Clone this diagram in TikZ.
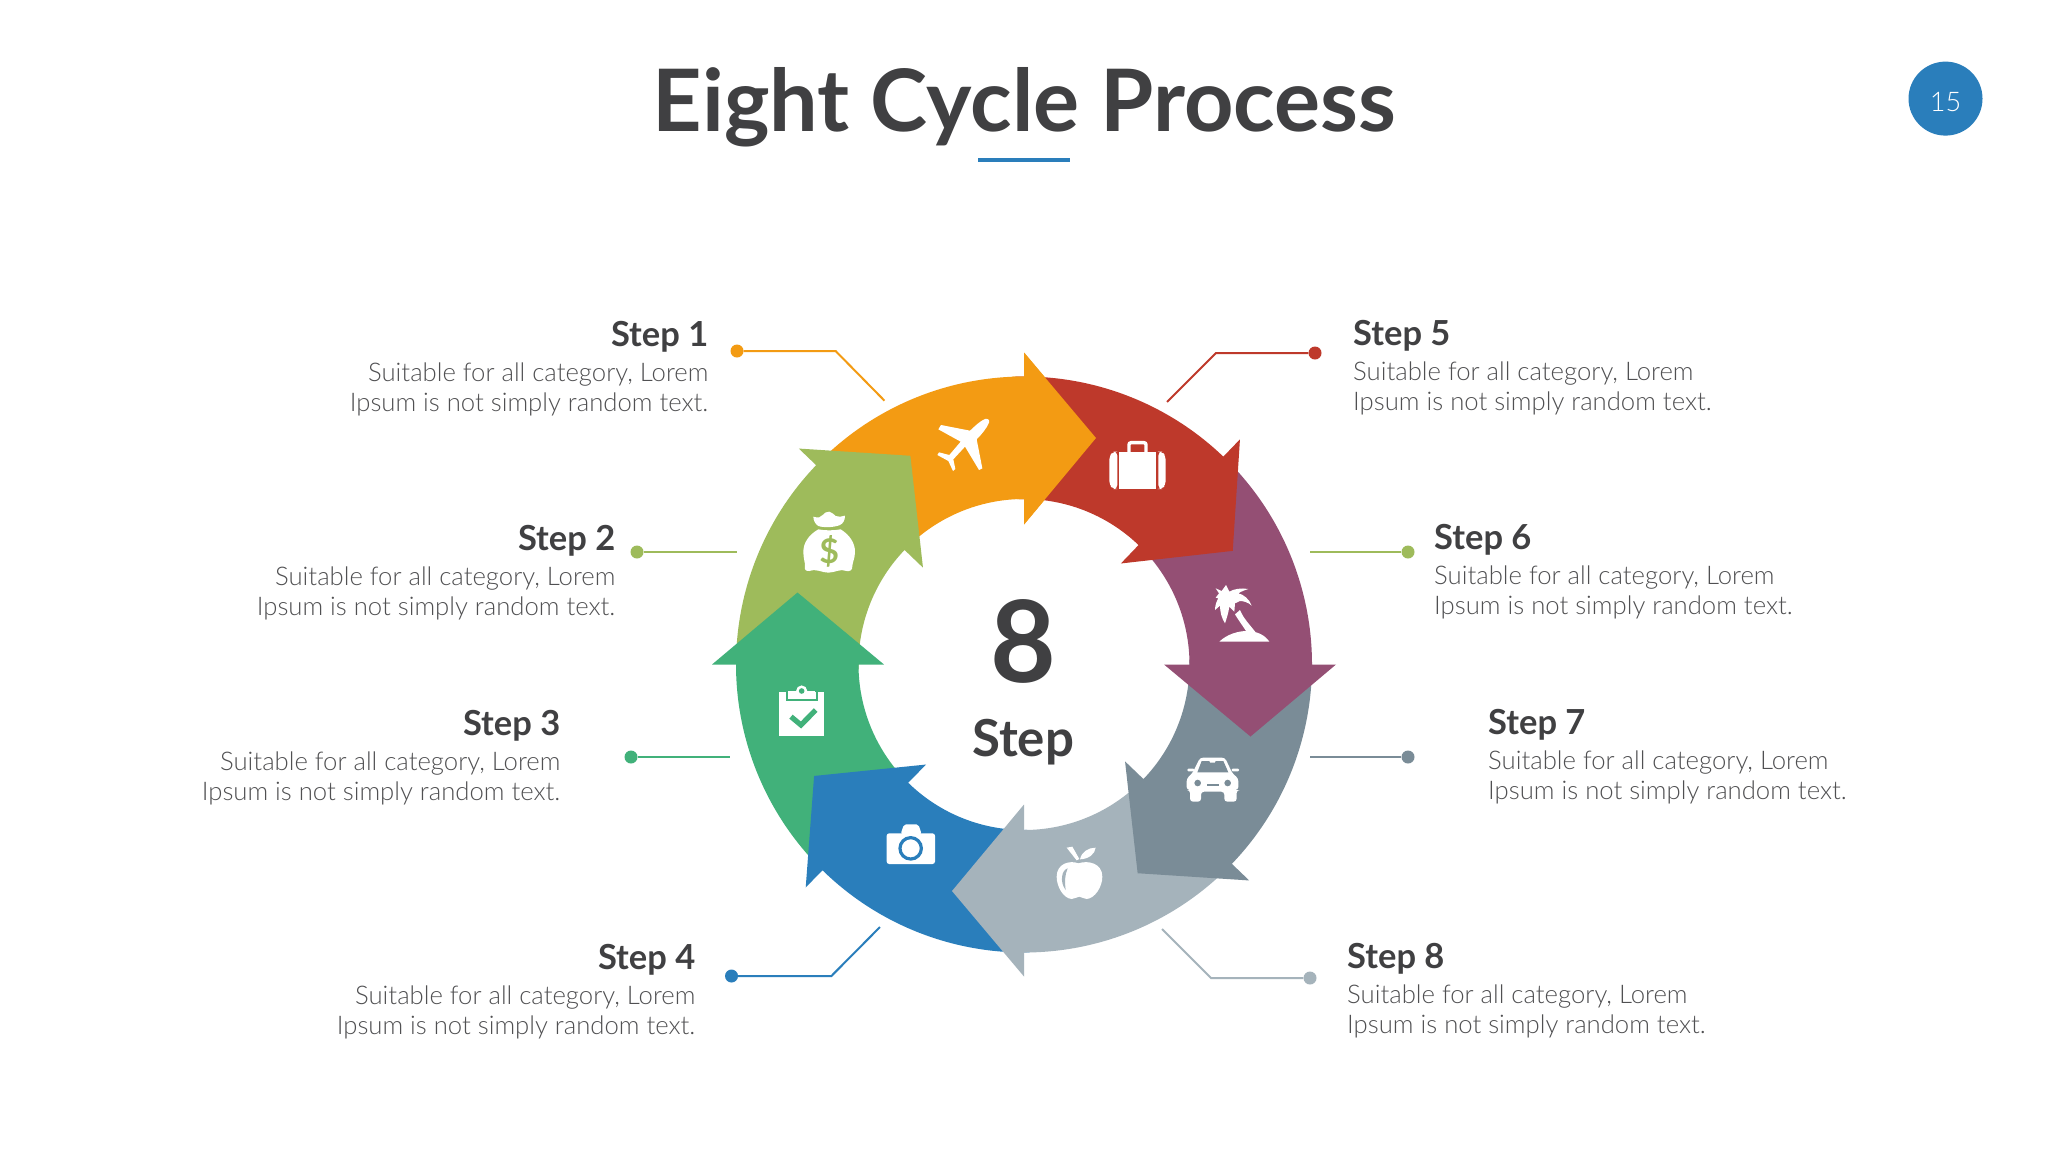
\documentclass[tikz,border=0pt]{standalone}
\usepackage{fontspec}
\setmainfont{Lato}
\newfontfamily\lightf{Lato Light}
\definecolor{cOrange}{HTML}{F39B13}
\definecolor{cRed}{HTML}{BE392B}
\definecolor{cPurple}{HTML}{944F74}
\definecolor{cSlate}{HTML}{7A8C97}
\definecolor{cSilver}{HTML}{A5B3BB}
\definecolor{cBlue}{HTML}{2A7EBB}
\definecolor{cGreen}{HTML}{41B17A}
\definecolor{cLime}{HTML}{9EBB5B}
\definecolor{cInk}{HTML}{404042}
\definecolor{cBody}{HTML}{505052}
\tikzset{
  ico/.style 2 args={shift={(#1,-#2)},x=0.3333pt,y=-0.3333pt},
  wedge/.style={shift={(1024,-664.5)},rotate=#1},
  dotnode/.style={circle,fill=#1,inner sep=0pt,minimum size=13pt},
  leader/.style={draw=#1,line width=2pt},
  headtxt/.style={inner sep=0pt,text=cInk,font=\fontsize{34.5}{38}\selectfont\bfseries},
  bodytxt/.style={inner sep=0pt,text=cBody,font=\fontsize{25.7}{30.7}\selectfont\lightf},
}
\begin{document}
\begin{tikzpicture}[x=1pt,y=1pt]
\useasboundingbox (0,0) rectangle (2048,-1152);
\fill[white] (0,0) rectangle (2048,-1152);
% title
\node[inner sep=0pt,anchor=base,text=cInk,font=\fontsize{86.2}{100}\selectfont\bfseries] (title) at (1024.5,-131) {Eight Cycle Process};
\fill[cBlue] (978,-157.5) rectangle (1070,-161.5);
\node[circle,fill=cBlue,minimum size=74pt,inner sep=0pt] (page) at (1945.5,-98.6) {};
\node[inner sep=0pt,text=white,font=\fontsize{27}{30}\selectfont\lightf] (pagenum) at (1945.5,-102) {15};
% ring
\foreach \r/\c in {0/cOrange,46.2/cLime,90/cGreen,135.6/cBlue,180/cSilver,226.2/cSlate,270/cPurple,316.2/cRed}{
  \fill[\c,wedge=\r] (135.5:288) arc[start angle=135.5,end angle=90,radius=288] -- (0,312) -- (72,226.5) -- (0,140) -- (0,165.5) arc[start angle=90,end angle=135.5,radius=165.5] -- cycle;
}
\fill[cOrange,wedge=0] (92.5:288) arc[start angle=92.5,end angle=90,radius=288] -- (0,312) -- (72,226.5) -- (0,140) -- (0,165.5) arc[start angle=90,end angle=92.5,radius=165.5] -- cycle;
% centre
\node[inner sep=0pt,anchor=base,text=cInk,font=\fontsize{113.5}{130}\selectfont\bfseries] (eight) at (1023,-682.5) {8};
\node[inner sep=0pt,anchor=base,text=cInk,font=\fontsize{51}{56}\selectfont\bfseries] (steptxt) at (1023,-756) {Step};
% labels
\foreach \n/\x/\y/\lab in {1/708.5/346/Step 1,2/615.5/550/Step 2,3/560.5/735/Step 3,4/695.5/969/Step 4}{
  \node[headtxt,anchor=base east] (h\n) at (\x,-\y) {\lab};
  \node[bodytxt,anchor=base east,align=right] (b\n) at (\x,-\y-65.7) {Suitable for all category, Lorem\\Ipsum is not simply random text.};
}
\foreach \n/\x/\y/\lab in {5/1353/345/Step 5,6/1434/549/Step 6,7/1488/734/Step 7,8/1347/968/Step 8}{
  \node[headtxt,anchor=base west] (h\n) at (\x,-\y) {\lab};
  \node[bodytxt,anchor=base west,align=left] (b\n) at (\x,-\y-65.7) {Suitable for all category, Lorem\\Ipsum is not simply random text.};
}
% leaders
\node[dotnode=cOrange] (d1) at (737,-351) {};
\coordinate (k1) at (835.6,-351); \coordinate (e1) at (884.5,-400.7);
\draw[leader=cOrange] (d1) -- (k1) -- (e1);
\node[dotnode=cLime] (d2) at (637,-552) {};
\coordinate (e2) at (736.5,-552);
\draw[leader=cLime] (d2) -- (e2);
\node[dotnode=cGreen] (d3) at (631,-757) {};
\coordinate (e3) at (730,-757);
\draw[leader=cGreen] (d3) -- (e3);
\node[dotnode=cBlue] (d4) at (731.5,-976) {};
\coordinate (k4) at (831.4,-976); \coordinate (e4) at (880,-927);
\draw[leader=cBlue] (d4) -- (k4) -- (e4);
\node[dotnode=cRed] (d5) at (1315,-353) {};
\coordinate (k5) at (1216,-353); \coordinate (e5) at (1167,-402);
\draw[leader=cRed] (d5) -- (k5) -- (e5);
\node[dotnode=cLime] (d6) at (1408,-552) {};
\coordinate (e6) at (1310,-552);
\draw[leader=cLime] (d6) -- (e6);
\node[dotnode=cSlate] (d7) at (1408,-757) {};
\coordinate (e7) at (1310,-757);
\draw[leader=cSlate] (d7) -- (e7);
\node[dotnode=cSilver] (d8) at (1310,-978) {};
\coordinate (k8) at (1211,-978); \coordinate (e8) at (1162,-929);
\draw[leader=cSilver] (d8) -- (k8) -- (e8);
% plane
\begin{scope}[ico={920}{400}]
\fill[white] (195,57) .. controls (204,55) and (210,60) .. (207,68) .. controls (200,85) and (185,103) .. (170,118) -- (187,205) -- (177,210) -- (135,140) -- (100,178) -- (106,207) -- (99,213) -- (85,183) -- (52,165) -- (57,157) -- (88,165) -- (122,125) -- (55,88) -- (63,75) -- (150,92) .. controls (165,78) and (180,63) .. (195,57) -- cycle;
\end{scope}
% suitcase
\begin{scope}[ico={1100}{425}]
\fill[white] (58,80) rectangle (168,192);
\fill[white,rounded corners=4pt] (52,80) -- (40,80) -- (28,92) -- (28,180) -- (40,192) -- (52,192) -- cycle;
\fill[white,rounded corners=4pt] (175,80) -- (185,80) -- (197,92) -- (197,180) -- (185,192) -- (175,192) -- cycle;
\draw[white,line width=3.4pt,rounded corners=2pt] (87,82) -- (87,53) -- (138,53) -- (138,82);
\end{scope}
% money bag
\begin{scope}[ico={790}{500}]
\fill[white] (70,50) .. controls (85,55) and (92,52) .. (98,45) .. controls (103,40) and (110,33) .. (118,35) .. controls (128,37) and (132,45) .. (137,48) .. controls (145,52) and (155,50) .. (165,47) .. controls (165,60) and (160,70) .. (150,75) .. controls (130,83) and (100,83) .. (85,78) .. controls (75,72) and (70,60) .. (70,50) -- cycle;
\fill[white] (85,88) .. controls (105,92) and (130,92) .. (152,88) .. controls (180,105) and (195,130) .. (195,155) .. controls (195,175) and (188,185) .. (187,198) .. controls (188,210) and (180,215) .. (170,213) .. controls (150,205) and (135,218) .. (115,218) .. controls (95,218) and (80,205) .. (58,213) .. controls (48,215) and (42,208) .. (45,198) .. controls (45,185) and (40,175) .. (40,155) .. controls (40,130) and (55,105) .. (85,88) -- cycle;
\node[inner sep=0pt,text=cLime,font=\fontsize{34}{36}\selectfont\bfseries] (dollar) at (118,153) {\$};
\end{scope}
% palm
\begin{scope}[ico={1200}{575}]
\fill[white] (58,200) .. controls (80,178) and (115,168) .. (140,168) .. controls (170,168) and (195,180) .. (208,200) -- cycle;
\fill[white] (105,118) -- (120,105) .. controls (130,130) and (150,150) .. (167,172) -- (142,174) .. controls (130,155) and (115,135) .. (105,118) -- cycle;
\fill[white] (47,40) -- (65,48) -- (78,30) -- (88,50) .. controls (100,42) and (125,38) .. (145,42) .. controls (135,45) and (122,50) .. (115,55) .. controls (130,58) and (148,72) .. (155,92) .. controls (145,82) and (130,78) .. (120,78) -- (105,85) -- (103,110) -- (88,95) .. controls (85,115) and (80,130) .. (75,145) .. controls (65,130) and (60,110) .. (60,92) -- (45,105) .. controls (45,90) and (50,78) .. (55,70) -- (47,68) -- (57,55) -- cycle;
\end{scope}
% clipboard
\begin{scope}[ico={765}{680}]
\fill[white] (43,35) rectangle (178,167);
\draw[cGreen,line width=2.2pt] (65,30) -- (65,60) -- (155,60) -- (155,30);
\fill[cGreen] (60,25) rectangle (160,34.5);
\fill[white] (110,33) circle[radius=5.6pt];
\fill[white] (70,34) rectangle (150,54);
\fill[cGreen] (110,33) circle[radius=2.8pt];
\draw[cGreen,line width=5.2pt] (78,110) -- (108,135) -- (152,90);
\end{scope}
% car
\begin{scope}[ico={1175}{745}]
\fill[white,rounded corners=3pt] (75,38) -- (150,38) -- (172,85) -- (190,100) -- (190,135) -- (185,135) -- (185,170) -- (148,170) -- (148,140) -- (78,140) -- (78,170) -- (45,170) -- (45,135) -- (35,135) -- (35,100) -- (52,85) -- cycle;
\fill[white,rounded corners=1pt] (37,71) rectangle (58,79);
\fill[white,rounded corners=1pt] (170,71) rectangle (192,79);
\fill[cSlate] (80,48) -- (103,48) -- (105,53) -- (120,53) -- (122,48) -- (145,48) -- (160,82) -- (67,82) -- cycle;
\fill[cSlate] (68,114) circle[radius=3.3pt];
\fill[cSlate] (158,114) circle[radius=3.3pt];
\fill[cSlate] (95,117) rectangle (133,123);
\end{scope}
% camera
\begin{scope}[ico={870}{810}]
\fill[white,rounded corners=2pt] (92,72) -- (102,43) -- (145,43) -- (155,72) -- cycle;
\fill[white,rounded corners=2.5pt] (50,70) rectangle (195,162);
\draw[cBlue,line width=3.2pt] (122,115) circle[radius=10.7pt];
\end{scope}
% apple
\begin{scope}[ico={1040}{835}]
\fill[white] (80,38) -- (97,35) -- (118,72) -- (110,76) -- cycle;
\fill[white] (120,73) .. controls (125,50) and (145,38) .. (167,38) .. controls (165,58) and (145,72) .. (120,73) -- cycle;
\fill[white] (115,85) .. controls (90,75) and (50,85) .. (50,125) .. controls (50,155) and (70,190) .. (95,192) .. controls (105,192) and (110,185) .. (118,185) .. controls (125,185) and (130,192) .. (140,192) .. controls (165,190) and (187,155) .. (187,125) .. controls (187,85) and (145,75) .. (115,85) -- cycle;
\fill[cSilver] (83,100) .. controls (65,105) and (58,140) .. (77,165) .. controls (74,140) and (74,120) .. (83,100) -- cycle;
\end{scope}
\end{tikzpicture}
\end{document}
